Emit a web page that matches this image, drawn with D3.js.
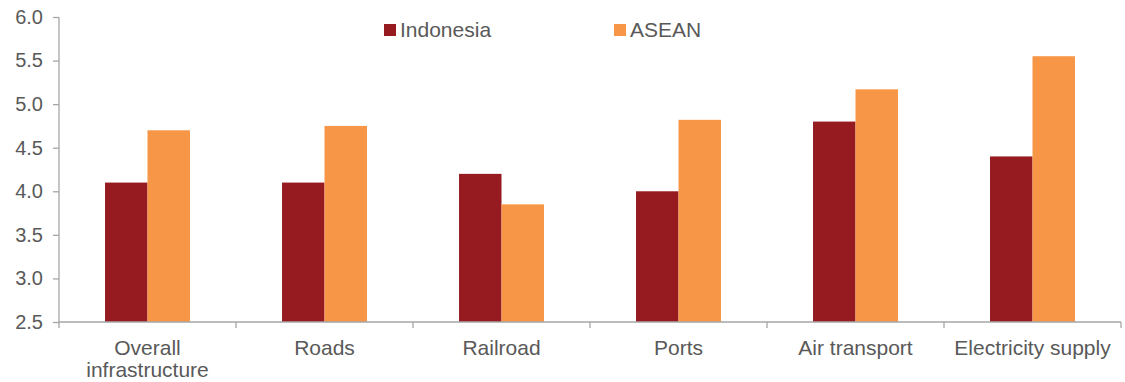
<!DOCTYPE html>
<html><head><meta charset="utf-8">
<script src="https://cdn.jsdelivr.net/npm/d3@7"></script>
<style>body{margin:0;background:#fff}svg{display:block}text{font-family:"Liberation Sans",Arial,sans-serif}</style>
</head><body><svg id="c" width="1125" height="382"></svg>
<script>
const categories = ["Overall infrastructure","Roads","Railroad","Ports","Air transport","Electricity supply"];
const indonesia = [4.1, 4.1, 4.2, 4.0, 4.8, 4.4];
const asean = [4.7, 4.75, 3.85, 4.82, 5.17, 5.55];
const yTicks = [2.5,3.0,3.5,4.0,4.5,5.0,5.5,6.0];
const seriesNames = ["Indonesia","ASEAN"];
const colors = ["#961B21","#F79646"];

const svg = d3.select("#c");
const m = {l:59, r:1121, t:17, b:322};
const x = d3.scaleBand().domain(categories).range([m.l, m.r]).paddingInner(0.52).paddingOuter(0.26);
const y = d3.scaleLinear().domain([2.5,6.0]).range([m.b, m.t]);
const x1 = d3.scaleBand().domain(seriesNames).range([0, x.bandwidth()]);
const axisCol = "#a6a6a6", textCol = "#595959";

// bars
const data = categories.map((c,i)=>({c, vals:[indonesia[i], asean[i]]}));
const g = svg.append("g");
data.forEach(d=>{
  d.vals.forEach((v,j)=>{
    g.append("rect").attr("x", x(d.c)+x1(seriesNames[j])).attr("width", x1.bandwidth())
     .attr("y", y(v)).attr("height", y(2.5)-y(v)).attr("fill", colors[j]);
  });
});

// y axis
const ya = svg.append("g").attr("transform",`translate(${m.l},0)`)
  .call(d3.axisLeft(y).tickValues(yTicks).tickFormat(d3.format(".1f")).tickSize(6).tickPadding(10));
ya.select(".domain").attr("stroke",axisCol).attr("stroke-width",1.3).attr("d",`M0,${m.t}V${m.b}`);
ya.selectAll(".tick line").attr("stroke",axisCol).attr("stroke-width",1.3);
ya.selectAll(".tick text").attr("fill",textCol).style("font-size","20px").style("font-family","Liberation Sans, Arial, sans-serif");

// x axis
const step = (m.r-m.l)/categories.length;
const xa = svg.append("g");
xa.append("line").attr("x1",m.l).attr("x2",m.r).attr("y1",m.b).attr("y2",m.b).attr("stroke",axisCol).attr("stroke-width",1.3);
d3.range(categories.length+1).forEach(i=>{
  xa.append("line").attr("x1",m.l+i*step).attr("x2",m.l+i*step).attr("y1",m.b).attr("y2",m.b+6).attr("stroke",axisCol).attr("stroke-width",1.3);
});
categories.forEach(c=>{
  const cx = x(c)+x.bandwidth()/2;
  const lines = c==="Overall infrastructure" ? ["Overall","infrastructure"] : [c];
  const t = xa.append("text").attr("text-anchor","middle").attr("fill",textCol).style("font-size","21px");
  lines.forEach((l,k)=>t.append("tspan").attr("x",cx).attr("y",355+k*22).text(l));
});

// legend
const legX = [384, 614];
seriesNames.forEach((s,j)=>{
  svg.append("rect").attr("x",legX[j]).attr("y",24).attr("width",12).attr("height",12).attr("fill",colors[j]);
  svg.append("text").attr("x",legX[j]+16).attr("y",37).attr("fill",textCol).style("font-size","21px").text(s);
});
</script></body></html>
